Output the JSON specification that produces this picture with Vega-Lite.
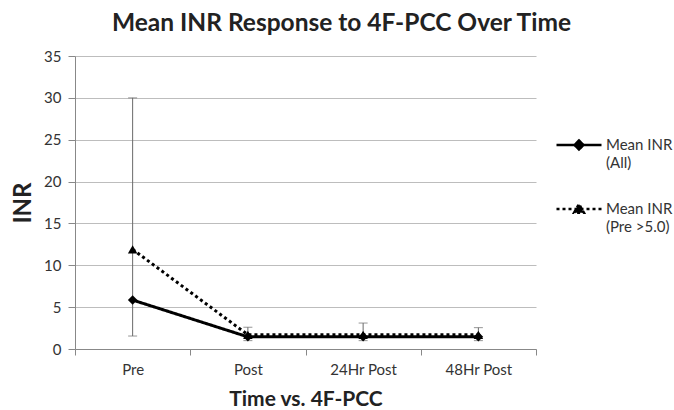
{
  "$schema": "https://vega.github.io/schema/vega-lite/v6.json",
  "autosize": {"type": "none"},
  "width": 461,
  "height": 293,
  "padding": {"left": 75, "top": 56, "right": 138, "bottom": 61},
  "background": "white",
  "config": {"font": "Lato", "view": {"stroke": null}},
  "title": {"text": "Mean INR Response to 4F-PCC Over Time", "fontSize": 24.5, "font": "Lato", "fontWeight": "bold", "color": "#222222", "anchor": "middle", "dx": 36, "offset": 13},
  "datasets": {
    "means": [
      {"time": "Pre", "series": "All", "inr": 5.85},
      {"time": "Post", "series": "All", "inr": 1.45},
      {"time": "24Hr Post", "series": "All", "inr": 1.45},
      {"time": "48Hr Post", "series": "All", "inr": 1.45},
      {"time": "Pre", "series": "Pre >5.0", "inr": 11.9},
      {"time": "Post", "series": "Pre >5.0", "inr": 1.7},
      {"time": "24Hr Post", "series": "Pre >5.0", "inr": 1.7},
      {"time": "48Hr Post", "series": "Pre >5.0", "inr": 1.7}
    ],
    "errors": [
      {"time": "Pre", "lo": 1.55, "hi": 30.0},
      {"time": "Post", "lo": 1.0, "hi": 2.6},
      {"time": "24Hr Post", "lo": 1.0, "hi": 3.1},
      {"time": "48Hr Post", "lo": 1.0, "hi": 2.55}
    ]
  },
  "encoding": {
    "x": {
      "field": "time", "type": "nominal",
      "sort": ["Pre", "Post", "24Hr Post", "48Hr Post"],
      "scale": {"paddingInner": 0, "paddingOuter": 0},
      "axis": {
        "title": "Time vs. 4F-PCC", "titleFontSize": 21, "titleFontWeight": "bold", "titleColor": "#222222", "titlePadding": 11,
        "labelAngle": 0, "labelFontSize": 15, "labelColor": "#333333", "labelPadding": 7,
        "domainColor": "#888888", "tickColor": "#888888", "tickBand": "extent", "tickSize": 6, "grid": false
      }
    }
  },
  "layer": [
    {
      "data": {"name": "errors"},
      "mark": {"type": "rule", "color": "#6a6a6a", "strokeWidth": 1},
      "encoding": {
        "y": {"field": "lo", "type": "quantitative"},
        "y2": {"field": "hi"}
      }
    },
    {
      "data": {"name": "errors"},
      "mark": {"type": "tick", "color": "#6a6a6a", "thickness": 1, "size": 9},
      "encoding": {"y": {"field": "hi", "type": "quantitative"}}
    },
    {
      "data": {"name": "errors"},
      "mark": {"type": "tick", "color": "#6a6a6a", "thickness": 1, "size": 9},
      "encoding": {"y": {"field": "lo", "type": "quantitative"}}
    },
    {
      "data": {"name": "means"},
      "mark": {"type": "line", "color": "black", "strokeWidth": 3},
      "encoding": {
        "y": {
          "field": "inr", "type": "quantitative",
          "scale": {"domain": [0, 35], "nice": false},
          "axis": {
            "title": "INR", "titleFontSize": 24, "titleFontWeight": "bold", "titleColor": "#222222", "titlePadding": 8,
            "values": [0, 5, 10, 15, 20, 25, 30, 35],
            "labelFontSize": 15, "labelColor": "#333333", "labelPadding": 7,
            "domainColor": "#888888", "tickColor": "#888888", "tickSize": 7,
            "gridColor": "#bdbdbd", "gridWidth": 1.2
          }
        },
        "strokeDash": {
          "field": "series", "type": "nominal",
          "scale": {"domain": ["All", "Pre >5.0"], "range": [[1, 0], [3, 3]]},
          "legend": {
            "title": null, "orient": "none", "legendX": 480, "legendY": 65,
            "symbolType": "M-1,0L1,0M-0.2,0L0,-0.2L0.2,0L0,0.2Z",
            "symbolSize": 2025, "symbolStrokeWidth": 2.5, "symbolStrokeColor": "black", "symbolFillColor": "black",
            "labelFontSize": 15, "labelColor": "#333333", "labelBaseline": "middle", "labelOffset": 3, "labelLimit": 200,
            "labelExpr": "datum.value == 'All' ? ['Mean INR', '(All)'] : ['Mean INR', '(Pre >5.0)']",
            "rowPadding": 14,
            "encode": {
              "symbols": {"update": {"fill": {"value": "black"}, "stroke": {"value": "black"}, "shape": {"signal": "datum.value == 'All' ? 'M-1,0L1,0M-0.2,0L0,-0.2L0.2,0L0,0.2Z' : 'M-1,0L1,0M-0.22,0.17L0,-0.22L0.22,0.17Z'"}}},
              "labels": {"update": {"lineHeight": {"value": 18}}}
            }
          }
        }
      }
    },
    {
      "data": {"name": "means"},
      "transform": [{"filter": "datum.series == 'All'"}],
      "mark": {"type": "point", "filled": true, "color": "black", "opacity": 1, "size": 90, "shape": "diamond"},
      "encoding": {"y": {"field": "inr", "type": "quantitative"}}
    },
    {
      "data": {"name": "means"},
      "transform": [{"filter": "datum.series == 'Pre >5.0'"}],
      "mark": {"type": "point", "filled": true, "color": "black", "opacity": 1, "size": 90, "shape": "triangle-up"},
      "encoding": {"y": {"field": "inr", "type": "quantitative"}}
    }
  ]
}
